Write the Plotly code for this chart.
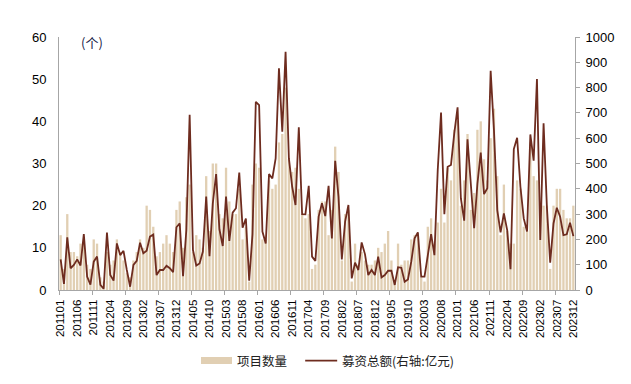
import plotly.graph_objects as go

months = [f"{y}{m:02d}" for y in range(2011, 2024) for m in range(1, 13)]

project_count = [
    13, 5, 18, 9, 9, 8, 11, 11, 6, 5,
    12, 11, 3, 2, 9, 6, 7, 12, 9, 7,
    4, 3, 7, 9, 12, 10, 20, 19, 15, 8,
    9, 11, 13, 11, 9, 19, 21, 10, 22, 25,
    9, 13, 12, 10, 27, 14, 30, 30, 18, 17,
    29, 21, 18, 18, 24, 12, 15, 2, 25, 30,
    29, 12, 12, 26, 24, 25, 35, 37, 48, 31,
    28, 29, 24, 18, 17, 18, 5, 6, 19, 21,
    21, 13, 19, 34, 28, 7, 18, 19, 2, 11,
    6, 9, 7, 6, 6, 7, 10, 9, 11, 14,
    7, 2, 11, 6, 7, 7, 12, 13, 13, 3,
    2, 15, 17, 11, 16, 24, 16, 29, 26, 38,
    40, 20, 26, 37, 19, 23, 38, 40, 31, 26,
    36, 43, 27, 13, 25, 14, 11, 11, 26, 24,
    15, 14, 35, 27, 26, 20, 20, 20, 5, 20,
    24, 24, 19, 17, 17, 20,
]

fund_total = [
    121, 24, 208, 86, 99, 121, 97, 221, 53, 21,
    112, 132, 20, 5, 227, 59, 37, 184, 138, 155,
    79, 13, 99, 115, 187, 145, 155, 211, 219, 59,
    79, 79, 96, 86, 70, 248, 263, 55, 237, 693,
    158, 97, 105, 152, 369, 134, 343, 458, 240, 174,
    369, 194, 306, 323, 464, 246, 282, 37, 221, 744,
    731, 231, 184, 458, 441, 520, 876, 626, 942, 520,
    408, 336, 643, 300, 299, 412, 132, 115, 290, 343,
    292, 412, 204, 511, 369, 121, 270, 336, 46, 108,
    79, 188, 142, 59, 79, 59, 132, 50, 59, 76,
    76, 20, 90, 88, 33, 42, 112, 204, 228, 53,
    53, 132, 221, 138, 474, 701, 300, 487, 494, 619,
    722, 362, 274, 596, 408, 244, 420, 543, 379, 402,
    866, 632, 316, 228, 303, 237, 82, 557, 602, 408,
    283, 231, 615, 511, 834, 198, 659, 329, 108, 263,
    325, 290, 217, 220, 266, 213,
]

left_ticks = [0, 10, 20, 30, 40, 50, 60]
right_ticks = [0, 100, 200, 300, 400, 500, 600, 700, 800, 900, 1000]

BAR_COLOR = "#E1CFB3"
LINE_COLOR = "#6E2C1F"
AXIS_COLOR = "#A6A6A6"
FONT = "Liberation Sans, Arial, sans-serif"
CJK = "Noto Sans CJK SC, sans-serif"

x_idx = list(range(len(months)))
label_idx = x_idx[::5]

fig = go.Figure()
fig.add_trace(go.Bar(
    x=x_idx, y=project_count, name="项目数量",
    marker=dict(color=BAR_COLOR, line=dict(width=0)),
    yaxis="y", showlegend=False,
))
fig.add_trace(go.Scatter(
    x=x_idx, y=fund_total, name="募资总额(右轴:亿元)",
    mode="lines", line=dict(color=LINE_COLOR, width=1.8),
    yaxis="y2", showlegend=False,
))

# page body has an 8px margin, so the figure is sized to fill the rest of the window
fig.update_layout(
    width=623, height=376,
    margin=dict(l=51, r=56, t=29, b=94),
    paper_bgcolor="white", plot_bgcolor="white",
    bargap=0.3,
    font=dict(family=FONT, color="#000000"),
    xaxis=dict(
        range=[-0.5, len(months) - 0.5],
        tickmode="array", tickvals=label_idx,
        ticktext=[months[i] for i in label_idx],
        tickangle=-90, tickfont=dict(size=11.5, family=FONT, color="#000"),
        ticks="", showline=True, linecolor=AXIS_COLOR, linewidth=1,
        showgrid=False, zeroline=False, ticklabelstandoff=4,
        minor=dict(tickmode="array",
                   tickvals=[i - 0.5 for i in range(0, len(months) + 1, 10)],
                   ticks="outside", ticklen=4, tickcolor=AXIS_COLOR, showgrid=False),
    ),
    yaxis=dict(
        range=[0, 60], tickvals=left_ticks,
        tickfont=dict(size=13, family=FONT, color="#000"),
        showline=True, linecolor=AXIS_COLOR, linewidth=1,
        ticks="", showgrid=False, zeroline=False, ticklabelstandoff=9,
    ),
    yaxis2=dict(
        range=[0, 1000], tickvals=right_ticks, overlaying="y", side="right",
        tickfont=dict(size=13, family=FONT, color="#000"),
        showline=True, linecolor=AXIS_COLOR, linewidth=1,
        ticks="outside", ticklen=4, tickcolor=AXIS_COLOR,
        showgrid=False, zeroline=False, ticklabelstandoff=3,
    ),
)

# unit label
fig.add_annotation(x=0.038, y=0.98, xref="paper", yref="paper",
                   text="(个)", showarrow=False, xanchor="left", yanchor="middle",
                   font=dict(size=13, family=CJK, color="#1A2348"))

# custom legend
fig.add_shape(type="rect", xref="paper", yref="paper",
              x0=0.2752, x1=0.3353, y0=-0.2925, y1=-0.2648,
              fillcolor=BAR_COLOR, line=dict(width=0))
fig.add_annotation(x=0.3415, y=-0.2795, xref="paper", yref="paper",
                   text="项目数量", showarrow=False, xanchor="left", yanchor="middle",
                   font=dict(size=12.5, family=CJK, color="#222"))
fig.add_shape(type="line", xref="paper", yref="paper",
              x0=0.4771, x1=0.5391, y0=-0.2795, y1=-0.2795,
              line=dict(color=LINE_COLOR, width=1.8))
fig.add_annotation(x=0.5438, y=-0.2795, xref="paper", yref="paper",
                   text="募资总额(右轴:亿元)", showarrow=False, xanchor="left", yanchor="middle",
                   font=dict(size=12.5, family=CJK, color="#222"))

fig.write_html("out.html")
